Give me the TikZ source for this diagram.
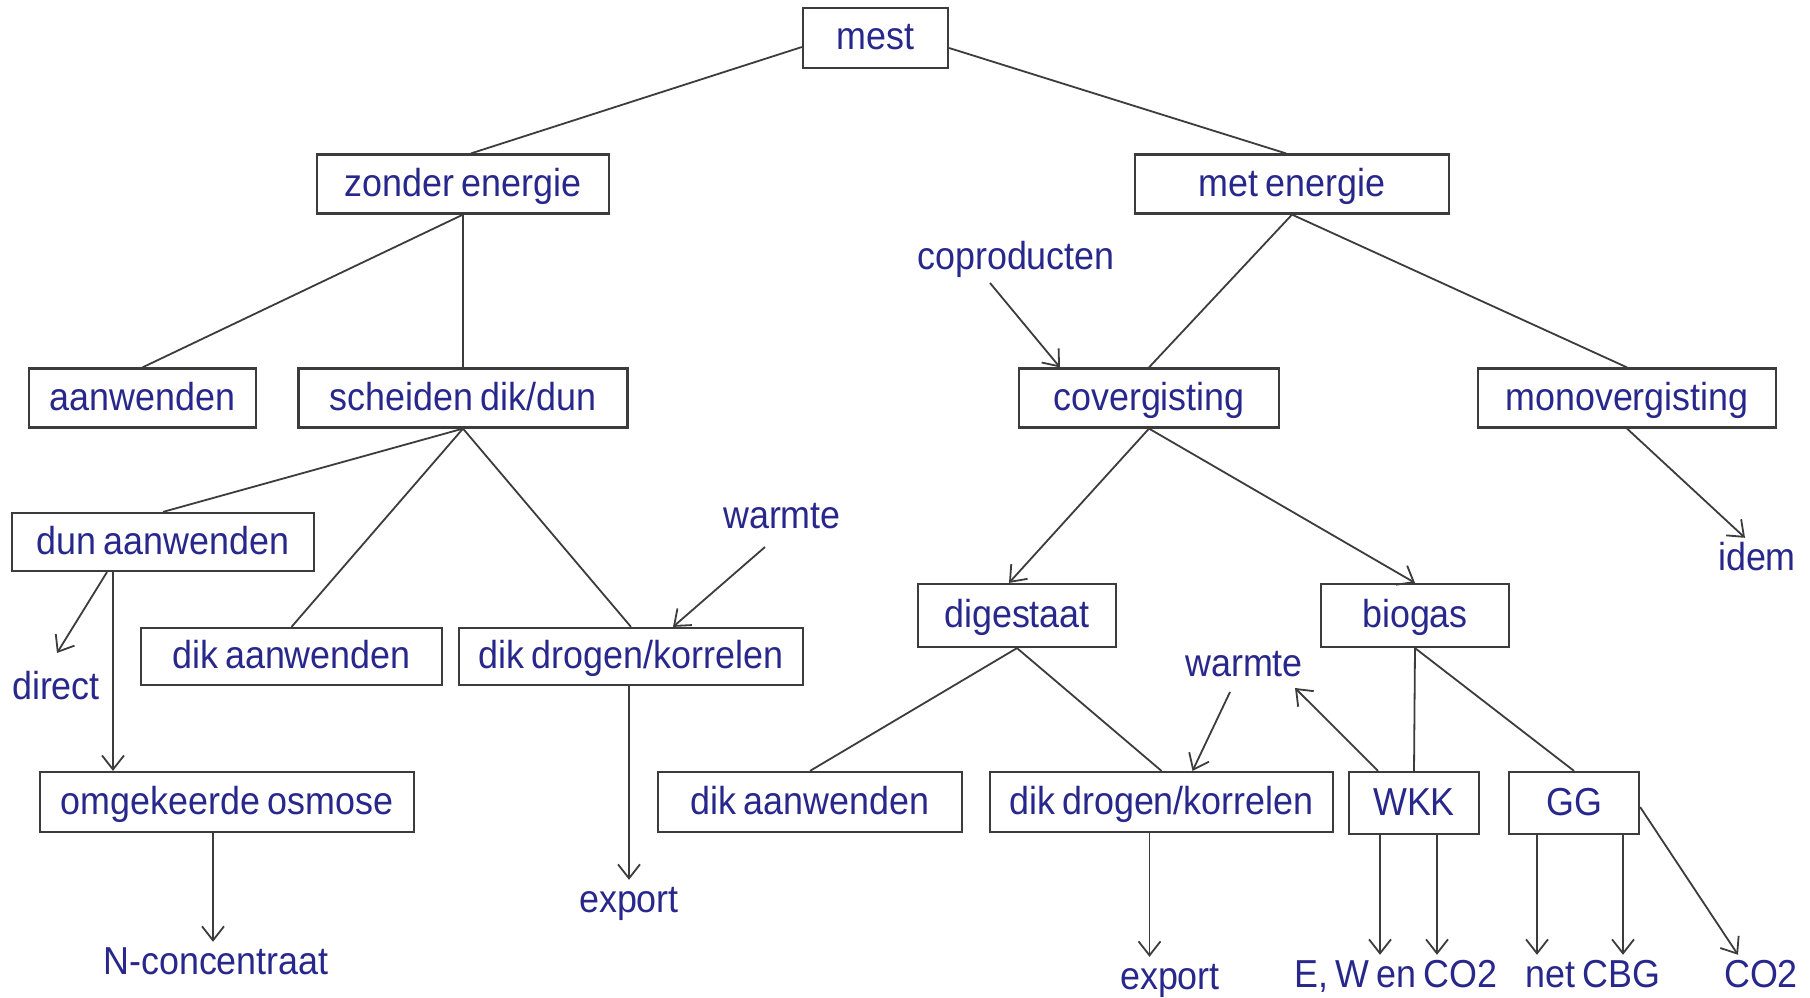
\documentclass[tikz,border=0pt]{standalone}
\usepackage{fontspec}
\setmainfont{Liberation Sans}[FakeStretch=0.92,WordSpace=0.7]
\usetikzlibrary{arrows.meta}
\definecolor{txt}{RGB}{40,40,140}
\definecolor{ln}{RGB}{60,60,60}
\begin{document}
\begin{tikzpicture}[x=1pt,y=-1pt,
  every node/.style={text=txt,font=\fontsize{39}{44}\selectfont,text height=32pt,text depth=8pt},
  box/.style={draw=ln,line width=2.2pt,rectangle,inner sep=0pt},
  lbl/.style={inner sep=0pt},
  con/.style={draw=ln,line width=1.8pt},
  arr/.style={con,-{Straight Barb[length=14pt,width=22pt,line width=1.8pt]}}
]
\useasboundingbox (0,0) rectangle (1810,998);
\fill[white] (0,0) rectangle (1810,998);
% boxes
\node[box,minimum width=145pt,minimum height=60pt] (mest) at (875.5,38) {mest};
\node[box,minimum width=292pt,minimum height=59pt] (zonder) at (463,184) {zonder energie};
\node[box,minimum width=314pt,minimum height=59pt] (met) at (1292,184) {met energie};
\node[box,minimum width=227pt,minimum height=59pt] (aanw) at (142.5,398) {aanwenden};
\node[box,minimum width=329pt,minimum height=59pt] (scheid) at (463,398) {scheiden dik/dun};
\node[box,minimum width=260pt,minimum height=59pt] (cover) at (1149,398) {covergisting};
\node[box,minimum width=298pt,minimum height=59pt] (mono) at (1627,398) {monovergisting};
\node[box,minimum width=302pt,minimum height=58pt] (dunaan) at (163,542) {dun aanwenden};
\node[box,minimum width=301pt,minimum height=57pt] (dikaanL) at (291.5,656.5) {dik aanwenden};
\node[box,minimum width=344pt,minimum height=57pt] (dikdroL) at (631,656.5) {dik drogen/korrelen};
\node[box,minimum width=198pt,minimum height=63pt] (digest) at (1017,615.5) {digestaat};
\node[box,minimum width=188pt,minimum height=63pt] (biogas) at (1415,615.5) {biogas};
\node[box,minimum width=374pt,minimum height=60pt] (osmose) at (227,802) {omgekeerde osmose};
\node[box,minimum width=304pt,minimum height=60pt] (dikaanR) at (810,802) {dik aanwenden};
\node[box,minimum width=343pt,minimum height=60pt] (dikdroR) at (1161.5,802) {dik drogen/korrelen};
\node[box,minimum width=130pt,minimum height=62pt] (wkk) at (1414,803) {WKK};
\node[box,minimum width=130pt,minimum height=62pt] (gg) at (1574,803) {GG};
% free labels
\node[lbl] (coprod) at (1016,257) {coproducten};
\node[lbl] (warmL) at (782,516) {warmte};
\node[lbl] (direct) at (56,687) {direct};
\node[lbl] (exportL) at (629,900) {export};
\node[lbl] (nconc) at (216,962) {N-concentraat};
\node[lbl] (idem) at (1757,558) {idem};
\node[lbl] (warmR) at (1244,664) {warmte};
\node[lbl] (exportR) at (1170,977) {export};
\node[lbl] (ewco) at (1396,975) {E, W en CO2};
\node[lbl] (netcbg) at (1593,975) {net CBG};
\node[lbl] (co2) at (1761,975) {CO2};
% free ends
\coordinate (wl1) at (765,547);
\coordinate (dir1) at (57,653);
\coordinate (cp1) at (990,283);
\coordinate (wr1) at (1230,692);
\coordinate (wr2) at (1295,688);
% tree lines
\draw[con] ([yshift=-9pt]mest.west) -- ([xshift=8pt]zonder.north);
\draw[con] ([yshift=-10pt]mest.east) -- ([xshift=-6pt]met.north);
\draw[con] (zonder.south) -- (aanw.north);
\draw[con] (zonder.south) -- (scheid.north);
\draw[con] (scheid.south) -- (dunaan.north);
\draw[con] (scheid.south) -- (dikaanL.north);
\draw[con] (scheid.south) -- (dikdroL.north);
\draw[con] (met.south) -- (cover.north);
\draw[con] (met.south) -- (mono.north);
\draw[con] (digest.south) -- (dikaanR.north);
\draw[con] (digest.south) -- (dikdroR.north);
\draw[con] (biogas.south) -- (wkk.north);
\draw[con] (biogas.south) -- (gg.north);
% arrows
\draw[arr] (wl1) -- ([xshift=42pt]dikdroL.north);
\draw[arr] ([xshift=-56pt]dunaan.south) -- (dir1);
\draw[arr] ([xshift=-50pt]dunaan.south) -- ([xshift=-50pt]dunaan.south |- osmose.north);
\draw[arr] ([xshift=-14pt]osmose.south) -- ([xshift=-14pt]osmose.south |- nconc.north);
\draw[arr] ([xshift=-2pt]dikdroL.south) -- ([xshift=-2pt]dikdroL.south |- exportL.north);
\draw[arr] (cp1) -- ([xshift=-89pt]cover.north);
\draw[arr] (cover.south) -- ([xshift=-8pt]digest.north);
\draw[arr] (cover.south) -- (biogas.north);
\draw[arr] (mono.south) -- ([xshift=-12pt]idem.north);
\draw[arr] (wr1) -- ([xshift=31pt]dikdroR.north);
\draw[arr] ([xshift=-36pt]wkk.north) -- (wr2);
\draw[arr] ([xshift=-12pt]dikdroR.south) -- ([xshift=-12pt]dikdroR.south |- exportR.north);
\draw[arr] ([xshift=-34pt]wkk.south) -- ([xshift=-34pt]wkk.south |- ewco.north);
\draw[arr] ([xshift=23pt]wkk.south) -- ([xshift=23pt]wkk.south |- ewco.north);
\draw[arr] ([xshift=-37pt]gg.south) -- ([xshift=-37pt]gg.south |- netcbg.north);
\draw[arr] ([xshift=49pt]gg.south) -- ([xshift=49pt]gg.south |- netcbg.north);
\draw[arr] ([yshift=-4pt]gg.east) -- ([xshift=-23pt]co2.north);
\end{tikzpicture}
\end{document}
